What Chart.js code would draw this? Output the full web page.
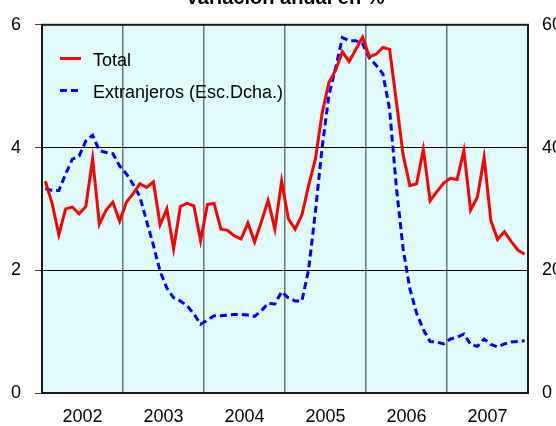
<!DOCTYPE html>
<html>
<head>
<meta charset="utf-8">
<script src="https://cdn.jsdelivr.net/npm/chart.js@4.4.1/dist/chart.umd.min.js"></script>
<style>
  body { margin: 0; background: #fff; }
  #wrap { position: relative; width: 556px; height: 426px; }
</style>
</head>
<body>
<div id="wrap"><canvas id="chart"></canvas></div>
<script>
const title = 'Variación anual en %';
const years = ['2002', '2003', '2004', '2005', '2006', '2007'];
const leftTicks = [0, 2, 4, 6];
const rightTicks = [0, 20, 40, 60];

// Total, % (left axis)
const total = [
  3.45, 3.09, 2.58, 3.00, 3.03, 2.92, 3.04, 3.82, 2.75, 2.98, 3.11, 2.80,
  3.11, 3.25, 3.41, 3.35, 3.44, 2.74, 3.00, 2.35, 3.04, 3.09, 3.05, 2.48,
  3.07, 3.09, 2.67, 2.65, 2.56, 2.51, 2.77, 2.46, 2.79, 3.14, 2.67, 3.45,
  2.84, 2.67, 2.90, 3.38, 3.81, 4.56, 5.06, 5.26, 5.56, 5.40, 5.60, 5.80,
  5.48, 5.52, 5.63, 5.60, 4.75, 3.88, 3.38, 3.41, 3.97, 3.13, 3.28, 3.42,
  3.50, 3.48, 3.95, 2.98, 3.19, 3.84, 2.81, 2.50, 2.63, 2.47, 2.33, 2.26
];

// Extranjeros, % (right axis)
const extranjeros = [
  33.3, 33.0, 33.0, 35.7, 38.1, 38.6, 41.1, 42.0, 39.5, 39.2, 39.0, 37.0,
  35.7, 34.0, 32.0, 28.0, 24.1, 19.8, 17.1, 15.5, 15.0, 14.2, 12.9, 11.2,
  11.9, 12.6, 12.6, 12.7, 12.8, 12.8, 12.7, 12.5, 13.4, 14.6, 14.5, 16.5,
  15.5, 15.0, 15.0, 20.1, 29.5, 40.0, 48.5, 53.0, 57.9, 57.4, 57.4, 56.9,
  54.6, 53.4, 52.0, 46.2, 33.5, 23.5, 17.0, 13.0, 10.3, 8.4, 8.3, 8.0,
  8.8, 9.1, 9.6, 7.9, 7.6, 8.8, 7.9, 7.5, 8.0, 8.3, 8.4, 8.5
];

const labels = [];
years.forEach(y => {
  for (let m = 1; m <= 12; m++) labels.push(y + '-' + String(m).padStart(2, '0'));
});

const FONT = 'Liberation Sans, Arial, sans-serif';

// plot background, frame, title and the legend box inside the plot
const decor = {
  id: 'decor',
  beforeDraw(chart) {
    const { ctx, chartArea: a } = chart;
    ctx.save();
    ctx.fillStyle = '#dffbfb';
    ctx.fillRect(a.left, a.top, a.right - a.left, a.bottom - a.top);
    ctx.restore();
  },
  afterDraw(chart) {
    const { ctx, chartArea: a } = chart;
    ctx.save();
    ctx.strokeStyle = '#1a1a1a';
    ctx.lineWidth = 2;
    ctx.strokeRect(a.left, a.top, a.right - a.left, a.bottom - a.top);

    ctx.fillStyle = '#000';
    ctx.font = 'bold 20px ' + FONT;
    ctx.textAlign = 'center';
    ctx.textBaseline = 'alphabetic';
    ctx.fillText(title, (a.left + a.right) / 2, 4);

    // legend
    ctx.font = '18px ' + FONT;
    ctx.textAlign = 'left';
    const rows = [58.5, 90.5];
    chart.data.datasets.forEach((ds, i) => {
      const y = rows[i];
      ctx.strokeStyle = ds.borderColor;
      ctx.lineWidth = 3;
      ctx.setLineDash(ds.borderDash || []);
      ctx.beginPath();
      ctx.moveTo(60, y);
      ctx.lineTo(81, y);
      ctx.stroke();
      ctx.setLineDash([]);
      ctx.fillText(ds.label, 93, y + 7);
    });
    ctx.restore();
  }
};

new Chart(document.getElementById('chart'), {
  type: 'line',
  data: {
    labels: labels,
    datasets: [
      {
        label: 'Total',
        data: total,
        yAxisID: 'y',
        borderColor: '#ff0000',
        borderWidth: 3,
        pointRadius: 0,
        tension: 0
      },
      {
        label: 'Extranjeros (Esc.Dcha.)',
        data: extranjeros,
        yAxisID: 'y1',
        borderColor: '#0000ff',
        borderWidth: 3,
        borderDash: [7, 4],
        pointRadius: 0,
        tension: 0
      }
    ]
  },
  options: {
    responsive: true,
    maintainAspectRatio: false,
    animation: false,
    layout: { padding: { top: 21, left: 0, right: 0, bottom: 0 } },
    plugins: {
      legend: { display: false },
      tooltip: { enabled: false },
      title: { display: false }
    },
    scales: {
      x: {
        offset: true,
        afterFit: (s) => { s.height = 33; },
        border: { display: false },
        grid: {
          offset: true,
          drawTicks: false,
          lineWidth: 1.5,
          color: (c) => (c.index > 0 && c.index < 72 && c.index % 12 === 0) ? '#6a7474' : 'rgba(0,0,0,0)'
        },
        ticks: {
          autoSkip: false,
          maxRotation: 0,
          padding: 13,
          labelOffset: -3.4,
          color: '#000',
          font: { family: FONT, size: 18 },
          callback: (v, i) => (i % 12 === 6 ? years[Math.floor(i / 12)] : '')
        }
      },
      y: {
        position: 'left',
        min: 0,
        max: 6,
        afterFit: (s) => { s.width = 42; },
        afterBuildTicks: (s) => { s.ticks = leftTicks.map(v => ({ value: v })); },
        border: { display: false },
        grid: {
          color: '#000',
          lineWidth: 1,
          tickLength: 7,
          tickColor: '#444'
        },
        ticks: {
          padding: 14,
          color: '#000',
          font: { family: FONT, size: 18 }
        }
      },
      y1: {
        position: 'right',
        min: 0,
        max: 60,
        afterFit: (s) => { s.width = 28; },
        afterBuildTicks: (s) => { s.ticks = rightTicks.map(v => ({ value: v })); },
        border: { display: false },
        grid: { display: false, drawTicks: false },
        ticks: {
          padding: 14,
          color: '#000',
          font: { family: FONT, size: 18 }
        }
      }
    }
  },
  plugins: [decor]
});
</script>
</body>
</html>
